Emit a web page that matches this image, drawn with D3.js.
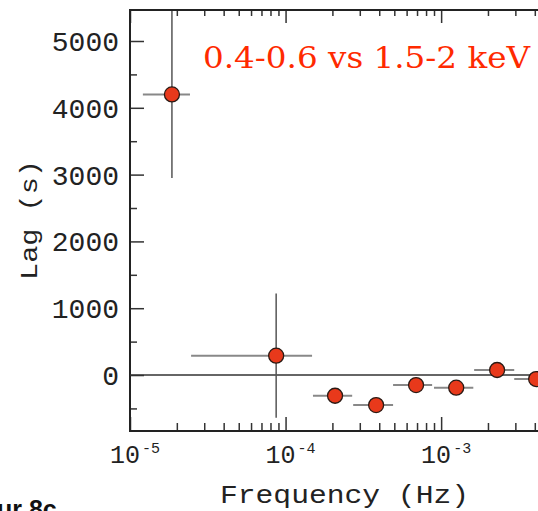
<!DOCTYPE html>
<html>
<head>
<meta charset="utf-8">
<script src="https://cdn.jsdelivr.net/npm/d3@7"></script>
<style>
  body { margin: 0; background: #fff; }
  svg { display: block; }
</style>
</head>
<body>
<script>
// lag-frequency spectrum, 0.4-0.6 vs 1.5-2 keV
const freq   = [1.86e-5, 8.7e-5, 2.08e-4, 3.82e-4, 6.9e-4, 1.25e-3, 2.29e-3, 4.08e-3]
const freqLo = [1.21e-5, 2.47e-5, 1.5e-4, 2.72e-4, 4.91e-4, 9.0e-4, 1.63e-3, 2.95e-3]
const freqHi = [2.43e-5, 1.48e-4, 2.68e-4, 4.91e-4, 8.75e-4, 1.61e-3, 2.95e-3, 5.6e-3]
const lag    = [4200, 290, -310, -450, -150, -190, 75, -60]
const lagErr = [1250, 930, 60, 60, 60, 60, 60, 60]

const yTicks = [0, 1000, 2000, 3000, 4000, 5000]
const yMinor = [-500, 500, 1500, 2500, 3500, 4500]
const xTicks = [1e-5, 1e-4, 1e-3]
const xTickExp = ["-5", "-4", "-3"]
const label = "0.4-0.6 vs 1.5-2 keV"

const W = 538, H = 511
const margin = {top: 10, left: 130, bottom: 431, right: 600}

const svg = d3.select('body').append('svg')
    .attr('width', W)
    .attr('height', H)

const xScale = d3.scaleLog()
    .domain([1e-5, 1.05e-2])
    .range([margin.left, margin.right])

const yScale = d3.scaleLinear()
    .domain([-838, 5464])
    .range([margin.bottom, margin.top])

// minor log ticks 2..9 per decade
const xMinor = []
for (let e = -5; e <= -3; e++) {
    for (let m = 2; m <= 9; m++) xMinor.push(m * Math.pow(10, e))
}

const axisStyle = g => {
    g.select('.domain').remove()
    g.selectAll('line').attr('stroke', '#333').attr('stroke-width', 1.5)
}

// bottom axis
svg.append('g')
    .attr('transform', 'translate(0,' + margin.bottom + ')')
    .call(d3.axisBottom(xScale).tickValues(xTicks).tickSize(-14).tickFormat(''))
    .call(axisStyle)
svg.append('g')
    .attr('transform', 'translate(0,' + margin.bottom + ')')
    .call(d3.axisBottom(xScale).tickValues(xMinor).tickSize(-8).tickFormat(''))
    .call(axisStyle)

// top axis
svg.append('g')
    .attr('transform', 'translate(0,' + margin.top + ')')
    .call(d3.axisTop(xScale).tickValues(xTicks).tickSize(-13).tickFormat(''))
    .call(axisStyle)
svg.append('g')
    .attr('transform', 'translate(0,' + margin.top + ')')
    .call(d3.axisTop(xScale).tickValues(xMinor).tickSize(-6).tickFormat(''))
    .call(axisStyle)

// left axis
svg.append('g')
    .attr('transform', 'translate(' + margin.left + ',0)')
    .call(d3.axisLeft(yScale).tickValues(yTicks).tickSize(-14).tickFormat(''))
    .call(axisStyle)
svg.append('g')
    .attr('transform', 'translate(' + margin.left + ',0)')
    .call(d3.axisLeft(yScale).tickValues(yMinor).tickSize(-7).tickFormat(''))
    .call(axisStyle)

// frame
svg.append('path')
    .attr('d', 'M' + margin.right + ',' + margin.top + 'H' + margin.left + 'V' + margin.bottom + 'H' + margin.right)
    .attr('fill', 'none')
    .attr('stroke', '#222')
    .attr('stroke-width', 2)

// y tick labels
svg.selectAll('.ylab').data(yTicks)
    .enter().append('text')
    .attr('x', margin.left - 11)
    .attr('y', d => yScale(d) + 10)
    .attr('text-anchor', 'end')
    .attr('font-family', 'Liberation Mono, monospace')
    .attr('font-size', 28)
    .attr('fill', '#222')
    .text(d => d)

// x tick labels 10^n
const xl = svg.selectAll('.xlab').data(xTicks)
    .enter().append('g')
xl.append('text')
    .attr('x', d => xScale(d) + 10)
    .attr('y', 463)
    .attr('text-anchor', 'end')
    .attr('font-family', 'Liberation Mono, monospace')
    .attr('font-size', 25)
    .attr('fill', '#222')
    .text('10')
xl.append('text')
    .attr('x', d => xScale(d) + 12)
    .attr('y', 453)
    .attr('font-family', 'Liberation Mono, monospace')
    .attr('font-size', 15)
    .attr('fill', '#222')
    .text((d, i) => xTickExp[i])

// axis titles
svg.append('text')
    .attr('x', 220)
    .attr('y', 503)
    .attr('font-family', 'Liberation Mono, monospace')
    .attr('font-size', 25)
    .attr('textLength', 249)
    .attr('lengthAdjust', 'spacingAndGlyphs')
    .attr('fill', '#222')
    .text('Frequency (Hz)')

svg.append('text')
    .attr('transform', 'translate(37,280) rotate(-90)')
    .attr('font-family', 'Liberation Mono, monospace')
    .attr('font-size', 23)
    .attr('textLength', 120)
    .attr('lengthAdjust', 'spacingAndGlyphs')
    .attr('fill', '#222')
    .text('Lag (s)')

// clip for data
svg.append('clipPath').attr('id', 'plot')
    .append('rect')
    .attr('x', margin.left).attr('y', margin.top)
    .attr('width', margin.right - margin.left)
    .attr('height', margin.bottom - margin.top)

const plot = svg.append('g').attr('clip-path', 'url(#plot)')

// zero line
plot.append('line')
    .attr('x1', margin.left).attr('x2', margin.right)
    .attr('y1', yScale(0)).attr('y2', yScale(0))
    .attr('stroke', '#333')
    .attr('stroke-width', 1.5)

const idx = d3.range(lag.length)

// error bars
plot.selectAll('.xerr').data(idx)
    .enter().append('line')
    .attr('x1', i => xScale(freqLo[i]))
    .attr('x2', i => xScale(freqHi[i]))
    .attr('y1', i => yScale(lag[i]))
    .attr('y2', i => yScale(lag[i]))
    .attr('stroke', '#888')
    .attr('stroke-width', 2)

plot.selectAll('.yerr').data(idx)
    .enter().append('line')
    .attr('x1', i => xScale(freq[i]))
    .attr('x2', i => xScale(freq[i]))
    .attr('y1', i => yScale(lag[i] - lagErr[i]))
    .attr('y2', i => yScale(lag[i] + lagErr[i]))
    .attr('stroke', '#555')
    .attr('stroke-width', 1.5)

plot.selectAll('.dot').data(idx)
    .enter().append('circle')
    .attr('cx', i => xScale(freq[i]))
    .attr('cy', i => yScale(lag[i]))
    .attr('r', 7.5)
    .attr('fill', '#e8391b')
    .attr('stroke', '#2a1a14')
    .attr('stroke-width', 1.3)

// panel label
svg.append('text')
    .attr('x', 203)
    .attr('y', 68)
    .attr('font-family', 'DejaVu Serif, serif')
    .attr('font-size', 29)
    .attr('textLength', 327)
    .attr('lengthAdjust', 'spacingAndGlyphs')
    .attr('fill', '#ff2a00')
    .text(label)

// caption, cropped at the bottom edge as in the source
svg.append('text')
    .attr('x', -3)
    .attr('y', 518)
    .attr('font-family', 'Liberation Sans, sans-serif')
    .attr('font-weight', 'bold')
    .attr('font-size', 25)
    .attr('fill', '#111')
    .text('ur 8c')
</script>
</body>
</html>
